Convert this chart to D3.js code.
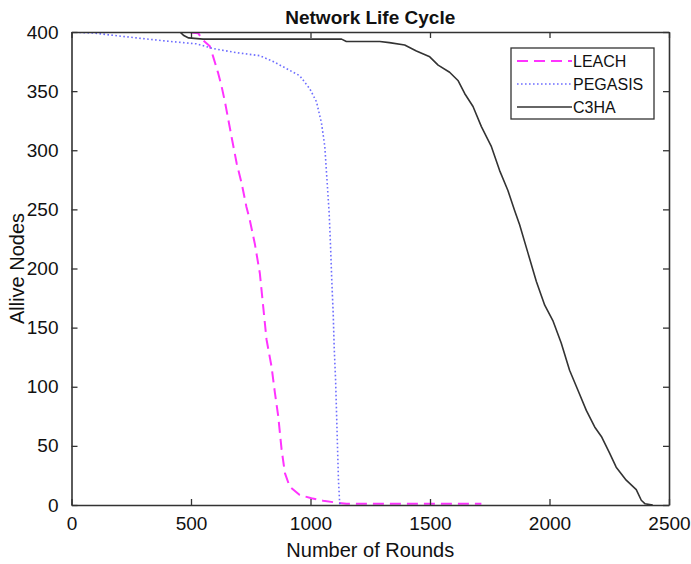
<!DOCTYPE html>
<html><head><meta charset="utf-8">
<script src="https://cdn.jsdelivr.net/npm/d3@7"></script>
<style>
html,body{margin:0;padding:0;background:#fff;}
text{font-family:"Liberation Sans",Arial,Helvetica,sans-serif;fill:#111;}
</style></head>
<body>
<svg id="chart" width="691" height="564"></svg>
<script>
const xTicks = [0, 500, 1000, 1500, 2000, 2500];
const yTicks = [0, 50, 100, 150, 200, 250, 300, 350, 400];
const seriesNames = ["LEACH", "PEGASIS", "C3HA"];

const leach = [[0,400],[480,400],[530,399],[551,393],[579,388],[593,379],[614,365],[628,354],[642,341],[656,326],[670,311],[691,289],[712,272],[732,252],[746,241],[767,221],[788,196],[802,168],[816,140],[837,117],[851,95],[865,75],[879,47],[893,27],[913,15.5],[955,8.5],[1004,5.7],[1053,3.6],[1109,2],[1150,1],[1715,1]];

const pegasis = [[0,400],[100,399],[161,397.5],[272,395],[412,392],[523,390],[593,386],[690,382.5],[788,380],[844,375],[900,369],[955,363],[997,352],[1025,341],[1046,323],[1060,303],[1069,275],[1078,247],[1084,218],[1089,190],[1095,162],[1099,134],[1105,106],[1109,78],[1113,49],[1117,21],[1122,2],[1125,0]];

const c3ha = [[0,400],[454,400],[470,397],[490,395],[550,394],[1130,394],[1150,392],[1290,392],[1330,391],[1394,389],[1443,384],[1499,379],[1534,372],[1582,366],[1617,359],[1645,348],[1680,337],[1715,320],[1757,303],[1791,283],[1826,266],[1854,249],[1875,237],[1910,213],[1945,189],[1980,169],[2014,156],[2049,137],[2084,114],[2119,97],[2154,80],[2189,66],[2217,58],[2251,44],[2279,32],[2321,21],[2363,13],[2384,4],[2400,1],[2432,0]];

(function(){
const W = 691, H = 564;
const m = {left: 71.5, right: 22, top: 32, bottom: 59};
const svg = d3.select("#chart");
const x = d3.scaleLinear().domain([0, 2500]).range([m.left, W - m.right]);
const y = d3.scaleLinear().domain([0, 400]).range([H - m.bottom, m.top]);

const styles = [
  {data: leach, color: "#ff33ff", width: 2, dash: "11,6"},
  {data: pegasis, color: "#6e6eff", width: 1.6, dash: "1.6,2.4"},
  {data: c3ha, color: "#333333", width: 1.6, dash: null}
];

svg.append("defs").append("clipPath").attr("id","clip")
  .append("rect").attr("x", m.left).attr("y", m.top)
  .attr("width", x(2500) - m.left).attr("height", y(0) - m.top);

const line = d3.line().x(d => x(d[0])).y(d => y(d[1]));
const g = svg.append("g").attr("clip-path","url(#clip)");
styles.forEach(s => {
  g.append("path").datum(s.data).attr("d", line)
    .attr("fill","none").attr("stroke", s.color)
    .attr("stroke-width", s.width)
    .attr("stroke-dasharray", s.dash)
    .attr("stroke-linejoin","round");
});

const axCol = "#333";
const axB = svg.append("g").attr("transform", `translate(0,${y(0)})`)
  .call(d3.axisBottom(x).tickValues(xTicks).tickSizeInner(-6).tickSizeOuter(0).tickPadding(12).tickFormat(d3.format("d")));
const axT = svg.append("g").attr("transform", `translate(0,${y(400)})`)
  .call(d3.axisTop(x).tickValues(xTicks).tickSizeInner(-6).tickSizeOuter(0).tickFormat(""));
const axL = svg.append("g").attr("transform", `translate(${x(0)},0)`)
  .call(d3.axisLeft(y).tickValues(yTicks).tickSizeInner(-6).tickSizeOuter(0).tickPadding(13).tickFormat(d3.format("d")));
const axR = svg.append("g").attr("transform", `translate(${x(2500)},0)`)
  .call(d3.axisRight(y).tickValues(yTicks).tickSizeInner(-6).tickSizeOuter(0).tickFormat(""));
[axB, axT, axL, axR].forEach(a => {
  a.select(".domain").attr("stroke", axCol).attr("stroke-width", 1.6);
  a.selectAll(".tick line").attr("stroke", axCol).attr("stroke-width", 1.3);
  a.selectAll("text").attr("font-size", 19).attr("font-family", "Liberation Sans, Arial, sans-serif").attr("fill", "#111");
});

svg.append("text").attr("x", (x(0) + x(2500)) / 2).attr("y", 24)
  .attr("text-anchor","middle").attr("font-size", 19).attr("font-weight","bold")
  .text("Network Life Cycle");
svg.append("text").attr("x", (x(0) + x(2500)) / 2).attr("y", 557)
  .attr("text-anchor","middle").attr("font-size", 20)
  .text("Number of Rounds");
svg.append("text").attr("transform", `translate(24,${(y(0) + y(400)) / 2}) rotate(-90)`)
  .attr("text-anchor","middle").attr("font-size", 20)
  .text("Allive Nodes");

const lg = svg.append("g");
lg.append("rect").attr("x", 511).attr("y", 48).attr("width", 143).attr("height", 71)
  .attr("fill", "#fff").attr("stroke", axCol).attr("stroke-width", 1.3);
const ly = [61, 84, 107];
styles.forEach((s, i) => {
  lg.append("line").attr("x1", 517).attr("x2", 572).attr("y1", ly[i]).attr("y2", ly[i])
    .attr("stroke", s.color).attr("stroke-width", s.width).attr("stroke-dasharray", s.dash);
  lg.append("text").attr("x", 573).attr("y", ly[i] + 6).attr("font-size", 16)
    .text(seriesNames[i]);
});
})();
</script>
</body></html>
